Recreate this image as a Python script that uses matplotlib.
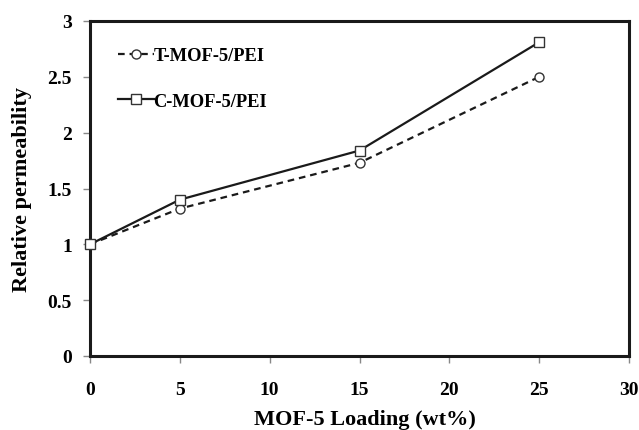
import matplotlib
matplotlib.use("Agg")
import matplotlib.pyplot as plt

# MOF-5 loading (wt%) and relative permeability of the two membrane series
loading = [0, 5, 15, 25]
t_mof_pei = [1.0, 1.32, 1.73, 2.50]
c_mof_pei = [1.0, 1.40, 1.84, 2.81]
series_labels = ["T-MOF-5/PEI", "C-MOF-5/PEI"]
x_ticks = [0, 5, 10, 15, 20, 25, 30]
y_ticks = [0, 0.5, 1, 1.5, 2, 2.5, 3]
y_ticklabels = ["0", "0.5", "1", "1.5", "2", "2.5", "3"]

plt.rcParams["font.family"] = ["Liberation Serif", "DejaVu Serif"]
plt.rcParams["font.weight"] = "bold"

fig = plt.figure(figsize=(6.39, 4.31), dpi=100)
ax = fig.add_axes([90 / 639, 1 - 357 / 431, (629 - 90) / 639, (357 - 22) / 431])

ax.plot(loading, t_mof_pei, linestyle=(0, (3.0, 2.2)), color="#1a1a1a", lw=1.6,
        marker="o", ms=6.5, mfc="white", mec="#333333", mew=1.0,
        label=series_labels[0], clip_on=False, zorder=4)
ax.plot(loading, c_mof_pei, linestyle="-", color="#1a1a1a", lw=1.6,
        marker="s", ms=7, mfc="white", mec="#333333", mew=1.0,
        label=series_labels[1], clip_on=False, zorder=5)

ax.set_xlim(0, 30)
ax.set_ylim(0, 3)
ax.set_xticks(x_ticks)
ax.set_yticks(y_ticks)
ax.set_yticklabels(y_ticklabels)

for s in ax.spines.values():
    s.set_linewidth(2.2)
    s.set_color("#1a1a1a")

ax.tick_params(axis="both", direction="out", length=5, width=1, color="#888888",
               labelsize=14, pad=8)
ax.tick_params(axis="x", pad=13)
for lab in ax.get_xticklabels() + ax.get_yticklabels():
    lab.set_fontweight("bold")

ax.set_xlabel("MOF-5 Loading (wt%)", fontsize=16, fontweight="bold")
ax.xaxis.set_label_coords(0.51, -0.157)
ax.set_ylabel("Relative permeability", fontsize=16, fontweight="bold")
ax.yaxis.set_label_coords(-0.108, 0.5)

leg = ax.legend(loc="upper left", bbox_to_anchor=(0.022, 0.972), frameon=False,
                handlelength=1.9, handletextpad=0.0,
                labelspacing=1.55, prop={"weight": "bold", "size": 13.3})

fig.savefig("out.png", dpi=100, facecolor="white")
